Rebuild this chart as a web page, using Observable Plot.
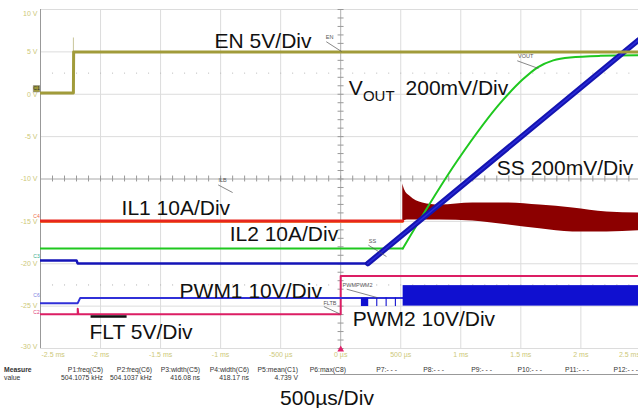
<!DOCTYPE html>
<html><head><meta charset="utf-8">
<script src="https://cdn.jsdelivr.net/npm/d3@7"></script>
<script src="https://cdn.jsdelivr.net/npm/@observablehq/plot@0.6"></script>
<style>
body{margin:0;background:#fff;font-family:"Liberation Sans",Arial,sans-serif;}
#wrap{position:relative;width:638px;height:408px;overflow:hidden;background:#fff;}
.m{position:absolute;font-size:6.8px;line-height:1;color:#333;white-space:nowrap;}
.r{text-align:right;}
#cap{position:absolute;left:0;width:654px;text-align:center;top:387px;font-size:21px;line-height:1;color:#111;}
#hline{position:absolute;left:320px;width:318px;top:374px;height:0;border-top:1px solid #999;}
</style></head><body><div id="wrap"></div>
<script>
// ---------- axis ticks ----------
const timeTicks = [-2.5,-2,-1.5,-1,-0.5,0,0.5,1,1.5,2,2.5];
const timeTickLabels = ["-2.5 ms","-2 ms","-1.5 ms","-1 ms","-500 µs","0 µs","500 µs","1 ms","1.5 ms","2 ms","2.5 ms"];
const voltTicks = [10,5,0,-5,-10,-15,-20,-25,-30];
const voltTickLabels = ["10 V","5 V","0 V","-5 V","-10 V","-15 V","-20 V","-25 V","-30 V"];

// ---------- traces (time in ms, screen volts) ----------
const enT = [-2.5,-2.226,-2.224,2.48];
const enV = [0.15,0.15,5.0,5.0];
const enSpikeT = [-2.226,-2.226];
const enSpikeV = [0.15,6.65];

const voutFlatT = [-2.5,0.517];
const voutFlatV = [-18.2,-18.2];
const voutRampT = [0.517,0.975,1.35,1.517,1.64,1.77,1.91,2.16,2.48];
const voutRampV = [-18.2,-7.76,-0.7,1.76,3.18,4.0,4.35,4.53,4.59];

const ssT = [-2.5,-2.2,-2.19,0.225];
const ssV = [-19.62,-19.62,-19.98,-19.98];
const ssRampT = [0.225,2.48];
const ssRampV = [-19.98,6.4];

const il1T = [-2.5,0.517];
const il1V = [-14.95,-14.95];

const il2T  = [0.517,0.533,0.575,0.683,0.825,1.1,1.383,1.658,1.933,2.217,2.48];
const il2Hi = [-10.59,-11.29,-12.0,-12.82,-13.06,-12.82,-12.82,-13.06,-13.41,-13.88,-14.0];
const il2Lo = [-14.95,-14.9,-14.85,-14.85,-14.85,-14.95,-15.41,-15.88,-16.24,-16.24,-16.12];

const pwmT = [-2.5,-2.19,-2.17,0.52];
const pwmV = [-24.65,-24.65,-24.05,-24.05];
const pulseStart = [0.1725,0.300,0.378,0.455,0.52];
const pulseEnd   = [0.2333,0.309,0.387,0.464,2.48];
const pulseHi    = [-24.05,-24.05,-24.05,-24.05,-22.58];
const pulseLo    = [-25.05,-25.05,-25.05,-25.05,-25.0];

const fltT = [-2.5,-2.19,-2.19,-2.185,0,0,2.48];
const fltV = [-25.95,-25.95,-25.3,-25.95,-25.95,-21.45,-21.45];

// ---------- annotations ----------
const labelText = ["EN 5V/Div","SS 200mV/Div","IL1 10A/Div","IL2 10A/Div","PWM1 10V/Div","PWM2 10V/Div","FLT 5V/Div"];
const labelT = [-1.05,1.30,-1.825,-0.925,-1.342,0.10,-2.092];
const labelV = [5.44,-9.57,-14.3,-17.26,-24.1,-27.3,-28.84];

const tagText = ["EN","VOUT","SS","ILB","FLTB","PWMPWM2"];
const tagT = [-0.093,1.54,0.265,-0.984,-0.09,0.14];
const tagV = [6.7,4.45,-17.3,-10.2,-24.6,-22.5];
const leadX1 = [-0.12,1.47,0.23,-1.02,-0.14,0.05];
const leadY1 = [6.2,3.95,-17.8,-10.7,-25.05,-23.0];
const leadX2 = [0.007,1.647,0.381,-0.90,-0.01,0.306];
const leadY2 = [5.04,3.04,-19.15,-11.6,-25.9,-24.0];

const chanTag = ["C1","C4","C3","C6","C2"];
const chanV = [0.65,-14.4,-19.1,-23.75,-25.75];
const chanCol = ["#333","#ee6a4a","#33aa88","#8080e0","#e0407a"];

const measureHead = ["P1:freq(C5)","P2:freq(C6)","P3:width(C5)","P4:width(C6)","P5:mean(C1)","P6:max(C8)","P7:- - -","P8:- - -","P9:- - -","P10:- - -","P11:- - -","P12:- - -"];
const measureVal  = ["504.1075 kHz","504.1037 kHz","416.08 ns","418.17 ns","4.739 V","","","","","","",""];

// ---------- build ----------
const zip2 = (a,b) => a.map((v,i)=>({t:v,v:b[i]}));
const en = zip2(enT,enV), enSp = zip2(enSpikeT,enSpikeV);
const voutF = zip2(voutFlatT,voutFlatV), voutR = zip2(voutRampT,voutRampV);
const ss = zip2(ssT,ssV), ssR = zip2(ssRampT,ssRampV);
const il1 = zip2(il1T,il1V);
const il2 = il2T.map((t,i)=>({t,hi:il2Hi[i],lo:il2Lo[i]}));
const pwm = zip2(pwmT,pwmV);
const pulses = pulseStart.map((s,i)=>({s,e:pulseEnd[i],hi:pulseHi[i],lo:pulseLo[i]}));
const flt = zip2(fltT,fltV);
const labels = labelText.map((s,i)=>({s,t:labelT[i],v:labelV[i]}));
const tags = tagText.map((s,i)=>({s,t:tagT[i],v:tagV[i],x1:leadX1[i],y1:leadY1[i],x2:leadX2[i],y2:leadY2[i]}));
const chans = chanTag.map((s,i)=>({s,v:chanV[i],c:chanCol[i]}));
const xt = timeTicks.map((t,i)=>({t,s:timeTickLabels[i]}));
const yt = voltTicks.map((v,i)=>({v,s:voltTickLabels[i]}));

const minorT = d3.range(-25,25).map(d=>d/10);
const minorV = d3.range(-30,11);
const dotRows = [2.5,-22.5];
const dots = dotRows.flatMap(v=>minorT.map(t=>({t,v})));

const labelColor = "#cdc878";

const chart = Plot.plot({
  width: 638, height: 362,
  marginLeft: 40, marginRight: 0, marginTop: 9, marginBottom: 14,
  x: {domain: [-2.5, 2.48], axis: null},
  y: {domain: [-30, 10], axis: null},
  style: {fontFamily: "'Liberation Sans', Arial, sans-serif", background: "white", overflow: "visible"},
  marks: [
    Plot.ruleX(timeTicks.filter(t=>t!==0 && t!==-2.5), {stroke: "#dcdcdc", strokeWidth: 1}),
    Plot.ruleY(voltTicks.filter(v=>v!==-10), {stroke: "#dcdcdc", strokeWidth: 1}),
    Plot.dot(dots, {x:"t", y:"v", r:0.6, fill:"#bbb", stroke:null}),
    Plot.ruleX([0], {stroke: "#b0b0b0"}),
    Plot.ruleY([-10], {stroke: "#a8a8a8"}),
    Plot.ruleX(minorT, {y1:-10.35, y2:-9.65, stroke:"#999"}),
    Plot.ruleY(minorV, {x1:-0.022, x2:0.028, stroke:"#999"}),
    Plot.ruleX([-2.5], {stroke: "#999"}),
    // axis labels
    Plot.text(xt.slice(1,-1), {x:"t", y:-30, text:"s", dy:6, fill:labelColor, fontSize:7}),
    Plot.text(xt.slice(0,1), {x:"t", y:-30, text:"s", dy:6, dx:1, textAnchor:"start", fill:labelColor, fontSize:7}),
    Plot.text(xt.slice(-1), {x:"t", y:-30, text:"s", dy:6, dx:-1, textAnchor:"end", fill:labelColor, fontSize:7}),
    Plot.text(yt.slice(1,-1), {x:-2.5, y:"v", text:"s", dx:-3, textAnchor:"end", fill:labelColor, fontSize:7}),
    Plot.text(yt.slice(0,1), {x:-2.5, y:"v", text:"s", dx:-3, dy:4.5, textAnchor:"end", fill:labelColor, fontSize:7}),
    Plot.text(yt.slice(-1), {x:-2.5, y:"v", text:"s", dx:-3, dy:-2, textAnchor:"end", fill:labelColor, fontSize:7}),
    // traces
    Plot.areaY(il2, {x:"t", y1:"lo", y2:"hi", fill:"#8c0000", curve:"monotone-x", clip:true}),
    Plot.line(il1, {x:"t", y:"v", stroke:"#f0a040", strokeWidth:1, dy:1.5, clip:true}),
    Plot.line(il1, {x:"t", y:"v", stroke:"#e8261c", strokeWidth:3, clip:true}),
    Plot.line(flt, {x:"t", y:"v", stroke:"#dc1e64", strokeWidth:2, clip:true}),
    Plot.line(pwm, {x:"t", y:"v", stroke:"#3030d8", strokeWidth:2, clip:true}),
    Plot.rect(pulses, {x1:"s", x2:"e", y1:"lo", y2:"hi", fill:"#1010d0", clip:true}),
    Plot.line(voutF, {x:"t", y:"v", stroke:"#1fc81f", strokeWidth:2, clip:true}),
    Plot.line(voutR, {x:"t", y:"v", stroke:"#1fc81f", strokeWidth:2, curve:"monotone-x", clip:true}),
    Plot.line(ss, {x:"t", y:"v", stroke:"#1414b8", strokeWidth:2.5, clip:true}),
    Plot.line(ssR, {x:"t", y:"v", stroke:"#1414b0", strokeWidth:5.5, clip:true}),
    Plot.line(ssR, {x:"t", y:"v", stroke:"#2a2ad8", strokeWidth:1.5, clip:true}),
    Plot.line(enSp, {x:"t", y:"v", stroke:"#c9c59a", strokeWidth:1, clip:true}),
    Plot.line(en, {x:"t", y:"v", stroke:"#a19b3a", strokeWidth:3, clip:true}),
    // small tags with leaders
    Plot.link(tags, {x1:"x1", y1:"y1", x2:"x2", y2:"y2", stroke:"#555", strokeWidth:0.7}),
    Plot.text(tags, {x:"t", y:"v", text:"s", fontSize:5.5, fill:"#555"}),
    // channel tags
    Plot.dot(chans.slice(0,1), {x:-2.5, y:"v", dx:-4, symbol:"square", r:3.6, fill:"#a19b3a", stroke:"#777", strokeWidth:0.5}),
    Plot.text(chans, {x:-2.5, y:"v", text:"s", dx:-4, fontSize:5, fill:"c", textAnchor:"middle"}),
    // big labels
    Plot.text(labels, {x:"t", y:"v", text:"s", fontSize:21, textAnchor:"start", lineAnchor:"bottom", fill:"#111"}),
    Plot.text(["V"], {x:0.067, y:-0.12, text:d=>d, fontSize:21, textAnchor:"start", lineAnchor:"bottom", fill:"#111"}),
    Plot.text(["OUT"], {x:0.185, y:-0.75, text:d=>d, fontSize:15, textAnchor:"start", lineAnchor:"bottom", fill:"#111"}),
    Plot.text(["200mV/Div"], {x:0.54, y:-0.12, text:d=>d, fontSize:21, textAnchor:"start", lineAnchor:"bottom", fill:"#111"}),
    Plot.link([{a:-2.083,b:-1.783}], {x1:"a", x2:"b", y1:-26.22, y2:-26.22, stroke:"#111", strokeWidth:2.5}),
    Plot.dot([0], {x:d=>d, y:-30, symbol:"triangle", r:2.5, fill:"#e0206a", stroke:null, dy:1})
  ]
});

const wrap = document.getElementById("wrap");
chart.style.position = "absolute"; chart.style.left = "0"; chart.style.top = "0";
wrap.appendChild(chart);

// measurement table below the SVG
const rightEdges = [103,152,200,249,298,346,397,444,492,542,589,638];
function addDiv(txt, left, right, top, bold){
  const d = document.createElement("div");
  d.className = "m" + (right!=null ? " r" : "");
  d.textContent = txt;
  d.style.top = top + "px";
  if (right!=null){ d.style.left = (right-60)+"px"; d.style.width = "60px"; }
  else d.style.left = left + "px";
  if (bold) d.style.fontWeight = "bold";
  wrap.appendChild(d);
}
addDiv("Measure", 4, null, 366.5, true);
addDiv("value", 4, null, 375, false);
measureHead.forEach((h,i)=>addDiv(h, null, rightEdges[i], 366.5, false));
measureVal.forEach((h,i)=>{ if(h) addDiv(h, null, rightEdges[i], 375, false); });
const hl = document.createElement("div"); hl.id = "hline"; wrap.appendChild(hl);
const cap = document.createElement("div"); cap.id = "cap"; cap.textContent = "500µs/Div"; wrap.appendChild(cap);
</script></body></html>
